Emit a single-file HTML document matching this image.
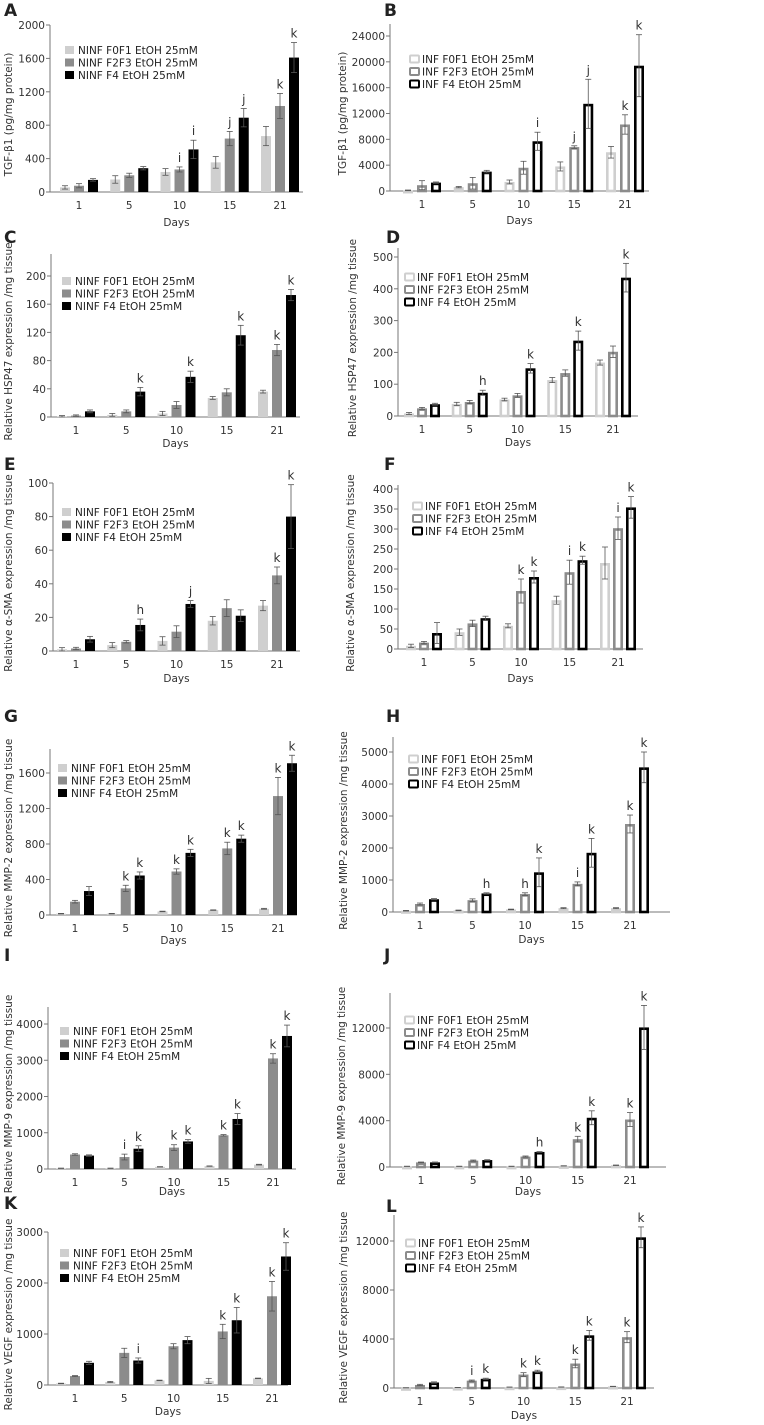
<!DOCTYPE html>
<html><head><meta charset="utf-8">
<style>
html,body{margin:0;padding:0;background:#fff;}
svg{display:block;font-family:"DejaVu Sans","Liberation Sans",sans-serif;}
</style></head>
<body>
<svg id="fig" width="764" height="1425" viewBox="0 0 764 1425" xmlns="http://www.w3.org/2000/svg"></svg>
<script>
const days = ['1','5','10','15','21'];
const seriesNINF = ['NINF F0F1 EtOH 25mM','NINF F2F3 EtOH 25mM','NINF F4 EtOH 25mM'];
const seriesINF = ['INF F0F1 EtOH 25mM','INF F2F3 EtOH 25mM','INF F4 EtOH 25mM'];

const aV0=[55,150,240,355,670], aE0=[20,45,40,70,115];
const aV1=[75,200,270,640,1030], aE1=[25,25,30,85,150];
const aV2=[145,285,510,890,1610], aE2=[15,20,110,110,180];
const aN1=['','','i','j','k'], aN2=['','','i','j','k'];
const aTicks=[0,400,800,1200,1600,2000];
const bV0=[100,600,1400,3800,6000], bE0=[50,100,300,700,900];
const bV1=[900,1200,3600,6800,10300], bE1=[700,900,1000,200,1500];
const bV2=[1300,3000,7700,13500,19400], bE2=[100,200,1400,3800,4800];
const bN1=['','','','j','k'], bN2=['','','i','j','k'];
const bTicks=[0,4000,8000,12000,16000,20000,24000];
const cV0=[1,3,5,27,36], cE0=[1,2,3,2,2];
const cV1=[2,8,17,35,95], cE1=[1,2,5,5,8];
const cV2=[8,36,57,116,173], cE2=[2,6,8,14,8];
const cN1=['','','','','k'], cN2=['','k','k','k','k'];
const cTicks=[0,40,80,120,160,200];
const dV0=[8,38,52,113,168], dE0=[3,5,4,8,8];
const dV1=[24,44,65,135,202], dE1=[3,5,6,10,18];
const dV2=[37,73,150,237,435], dE2=[3,8,15,30,45];
const dN1=['','','','',''], dN2=['','h','k','k','k'];
const dTicks=[0,100,200,300,400,500];
const eV0=[1,3.5,6,18,27], eE0=[1,1.5,2.5,2.5,3];
const eV1=[1.5,5.5,11.5,25.5,45], eE1=[0.7,0.7,3.5,5,5];
const eV2=[7,15.5,28,21,80], eE2=[1.7,3.5,2,3.5,19];
const eN1=['','','','','k'], eN2=['','h','j','','k'];
const eTicks=[0,20,40,60,80,100];
const fV0=[8,42,58,122,215], fE0=[4,8,5,10,40];
const fV1=[16,64,145,192,302], fE1=[3,8,30,30,28];
const fV2=[40,77,180,222,354], fE2=[26,5,15,10,27];
const fN1=['','','k','i','i'], fN2=['','','k','k','k'];
const fTicks=[0,50,100,150,200,250,300,350,400];
const gV0=[15,15,40,55,70], gE0=[3,3,3,3,5];
const gV1=[150,300,490,750,1340], gE1=[15,35,30,70,210];
const gV2=[270,445,700,860,1710], gE2=[50,40,40,40,90];
const gN1=['','k','k','k','k'], gN2=['','k','k','k','k'];
const gTicks=[0,400,800,1200,1600];
const hV0=[40,50,80,120,120], hE0=[10,10,10,15,15];
const hV1=[250,370,560,880,2750], hE1=[30,40,40,60,280];
const hV2=[400,580,1240,1850,4520], hE2=[20,20,450,450,480];
const hN1=['','','h','i','k'], hN2=['','h','k','k','k'];
const hTicks=[0,1000,2000,3000,4000,5000];
const iV0=[20,20,60,80,120], iE0=[5,5,5,5,10];
const iV1=[400,330,590,930,3050], iE1=[20,80,80,20,130];
const iV2=[370,560,760,1380,3670], iE2=[20,80,50,150,300];
const iN1=['','i','k','k','k'], iN2=['','k','k','k','k'];
const iTicks=[0,1000,2000,3000,4000];
const jV0=[60,60,60,100,150], jE0=[10,10,10,10,20];
const jV1=[400,550,900,2400,4100], jE1=[30,50,50,250,600];
const jV2=[400,600,1300,4250,12050], jE2=[30,30,30,600,1900];
const jN1=['','','','k','k'], jN2=['','','h','k','k'];
const jTicks=[0,4000,8000,12000];
const kV0=[30,60,90,80,130], kE0=[5,10,5,50,5];
const kV1=[175,630,760,1050,1740], kE1=[10,90,50,140,290];
const kV2=[435,480,880,1270,2520], kE2=[30,50,70,250,270];
const kN1=['','','','k','k'], kN2=['','i','','k','k'];
const kTicks=[0,1000,2000,3000];
const lV0=[20,40,70,80,130], lE0=[5,5,5,10,10];
const lV1=[250,600,1100,2000,4150], lE1=[50,50,150,350,450];
const lV2=[450,750,1350,4300,12300], lE2=[50,50,100,400,850];
const lN1=['','i','k','k','k'], lN2=['','k','k','k','k'];
const lTicks=[0,4000,8000,12000];

const NS='http://www.w3.org/2000/svg';
const svg=document.getElementById('fig');
function mk(tag,attrs,parent){const e=document.createElementNS(NS,tag);for(const k in attrs)e.setAttribute(k,attrs[k]);(parent||svg).appendChild(e);return e;}

function panel(cfg){
  const g=mk('g',{});
  
  
  const maxT=cfg.ticks[cfg.ticks.length-1];
  const y=v=>cfg.y0-(v/maxT)*(cfg.y0-cfg.yMax);
  const step=(cfg.cLast-cfg.cFirst)/(days.length-1);
  const xc=i=>cfg.cFirst+i*step;
  const lt=mk('text',{x:cfg.lx,y:cfg.ly,'font-size':17,'font-weight':'bold',fill:'#222'},g);
  lt.textContent=cfg.letter;
  
  
  const ya=mk('line',{x1:cfg.ax0,x2:cfg.ax0,y1:cfg.axTop,y2:cfg.y0,stroke:'#777','stroke-width':1},g);
  
  
  const xa=mk('line',{x1:cfg.ax0,x2:cfg.ax1,y1:cfg.y0,y2:cfg.y0,stroke:'#777','stroke-width':1},g);
  
  
  cfg.ticks.forEach(t=>{
    mk('line',{x1:cfg.ax0-4,x2:cfg.ax0,y1:y(t),y2:y(t),stroke:'#777'},g);
    const tx=mk('text',{x:cfg.ax0-5,y:y(t)+4,'font-size':10.5,'text-anchor':'end',fill:'#333'},g);
    tx.textContent=String(t);
    
    
  });
  days.forEach((d,i)=>{
    const tx=mk('text',{x:xc(i),y:cfg.y0+17,'font-size':10.5,'text-anchor':'middle',fill:'#333'},g);
    tx.textContent=d;
    
    
  });
  const xt=mk('text',{x:(cfg.ax0+cfg.ax1)/2,y:cfg.daysY,'font-size':10.5,'text-anchor':'middle',fill:'#333'},g);
  xt.textContent='Days';
  
  
  const ym=(cfg.axTop+cfg.y0)/2+6;
  const yt=mk('text',{x:cfg.tx,y:ym,'font-size':10.5,'text-anchor':'middle',fill:'#333',transform:'rotate(-90 '+cfg.tx+' '+ym+')'},g);
  yt.textContent=cfg.ytitle;
  
  
  const fills=cfg.inf?['#fff','#fff','#fff']:['#cfcfcf','#8c8c8c','#000'];
  const strokes=cfg.inf?['#cfcfcf','#8c8c8c','#000']:['none','none','none'];
  const sw=cfg.inf?2.6:0;
  const bw=10, off=cfg.off;
  const sets=[[cfg.v0,cfg.e0,null],[cfg.v1,cfg.e1,cfg.n1],[cfg.v2,cfg.e2,cfg.n2]];
  sets.forEach((s,k)=>{
    s[0].forEach((v,i)=>{
      const cx=xc(i)+(k-1)*off;
      const top=y(v);
      const r=mk('rect',{x:cx-bw/2+sw/2,y:top+sw/2,width:bw-sw,height:Math.max(0.5,cfg.y0-top-sw/2),fill:fills[k],stroke:strokes[k],'stroke-width':sw},g);
      
      
      const et=y(v+s[1][i]), eb=y(Math.max(0,v-s[1][i]));
      mk('line',{x1:cx,x2:cx,y1:et,y2:eb,stroke:'#555','stroke-width':0.8},g);
      mk('line',{x1:cx-3,x2:cx+3,y1:et,y2:et,stroke:'#555','stroke-width':0.8},g);
      mk('line',{x1:cx-3,x2:cx+3,y1:eb,y2:eb,stroke:'#555','stroke-width':0.8},g);
      if(s[2]&&s[2][i]){
        const a=mk('text',{x:cx,y:et-5,'font-size':12,'text-anchor':'middle',fill:'#333'},g);
        a.textContent=s[2][i];
        
        
      }
    });
  });
  const names=cfg.inf?seriesINF:seriesNINF;
  names.forEach((n,k)=>{
    const cy=cfg.legY+k*12.5;
    const sq=cfg.inf?mk('rect',{x:cfg.legX+1,y:cy-3.5,width:9,height:7,fill:'#fff',stroke:strokes[k],'stroke-width':2,rx:1},g)
                    :mk('rect',{x:cfg.legX,y:cy-4,width:9,height:8,fill:fills[k]},g);
    
    
    const t=mk('text',{x:cfg.legX+13,y:cy+4,'font-size':10.5,fill:'#222'},g);
    t.textContent=n;
    
    
  });
}

const L={lx:4, tx:12, off:14};
const R={off:14, inf:true};
panel({...L,letter:'A',ly:16,ytitle:'TGF-β1 (pg/mg protein)',ticks:aTicks,y0:192,yMax:25,axTop:25,ax0:50,ax1:303,cFirst:79,cLast:280,daysY:226,legX:65,legY:50,
  v0:aV0,e0:aE0,v1:aV1,e1:aE1,v2:aV2,e2:aE2,n1:aN1,n2:aN2});
panel({...R,letter:'B',lx:384,ly:16,tx:346,ytitle:'TGF-β1 (pg/mg protein)',ticks:bTicks,y0:191,yMax:36,axTop:24,ax0:390,ax1:649,cFirst:422,cLast:625,daysY:224,legX:409,legY:59,
  v0:bV0,e0:bE0,v1:bV1,e1:bE1,v2:bV2,e2:bE2,n1:bN1,n2:bN2});
panel({...L,letter:'C',ly:243,ytitle:'Relative HSP47 expression /mg tissue',ticks:cTicks,y0:417,yMax:276,axTop:254,ax0:51,ax1:300,cFirst:76,cLast:277,daysY:447,legX:62,legY:281,
  v0:cV0,e0:cE0,v1:cV1,e1:cE1,v2:cV2,e2:cE2,n1:cN1,n2:cN2});
panel({...R,off:13,letter:'D',lx:386,ly:243,tx:356,ytitle:'Relative HSP47 expression /mg tissue',ticks:dTicks,y0:416,yMax:257,axTop:248,ax0:398,ax1:638,cFirst:422,cLast:613,daysY:446,legX:404,legY:277,
  v0:dV0,e0:dE0,v1:dV1,e1:dE1,v2:dV2,e2:dE2,n1:dN1,n2:dN2});
panel({...L,letter:'E',ly:470,ytitle:'Relative α-SMA expression /mg tissue',ticks:eTicks,y0:651,yMax:483,axTop:483,ax0:53,ax1:300,cFirst:76,cLast:277,daysY:682,legX:62,legY:512,
  v0:eV0,e0:eE0,v1:eV1,e1:eE1,v2:eV2,e2:eE2,n1:eN1,n2:eN2});
panel({...R,off:13,letter:'F',lx:384,ly:470,tx:354,ytitle:'Relative α-SMA expression /mg tissue',ticks:fTicks,y0:649,yMax:489,axTop:485,ax0:398,ax1:643,cFirst:424,cLast:618,daysY:682,legX:412,legY:506,
  v0:fV0,e0:fE0,v1:fV1,e1:fE1,v2:fV2,e2:fE2,n1:fN1,n2:fN2});
panel({...L,letter:'G',ly:722,ytitle:'Relative MMP-2 expression /mg tissue',ticks:gTicks,y0:915,yMax:773,axTop:749,ax0:50,ax1:297,cFirst:75,cLast:278,daysY:944,legX:58,legY:768,
  v0:gV0,e0:gE0,v1:gV1,e1:gE1,v2:gV2,e2:gE2,n1:gN1,n2:gN2});
panel({...R,letter:'H',lx:386,ly:722,tx:347,ytitle:'Relative MMP-2 expression /mg tissue',ticks:hTicks,y0:912,yMax:752,axTop:737,ax0:393,ax1:670,cFirst:420,cLast:630,daysY:943,legX:408,legY:759,
  v0:hV0,e0:hE0,v1:hV1,e1:hE1,v2:hV2,e2:hE2,n1:hN1,n2:hN2});
panel({...L,letter:'I',ly:961,ytitle:'Relative MMP-9 expression /mg tissue',ticks:iTicks,y0:1169,yMax:1024,axTop:1007,ax0:48,ax1:296,cFirst:75,cLast:273,daysY:1195,legX:60,legY:1031,
  v0:iV0,e0:iE0,v1:iV1,e1:iE1,v2:iV2,e2:iE2,n1:iN1,n2:iN2});
panel({...R,letter:'J',lx:384,ly:961,tx:345,ytitle:'Relative MMP-9 expression /mg tissue',ticks:jTicks,y0:1167,yMax:1028,axTop:993,ax0:390,ax1:666,cFirst:421,cLast:630,daysY:1195,legX:404,legY:1020,
  v0:jV0,e0:jE0,v1:jV1,e1:jE1,v2:jV2,e2:jE2,n1:jN1,n2:jN2});
panel({...L,letter:'K',ly:1209,ytitle:'Relative VEGF expression /mg tissue',ticks:kTicks,y0:1385,yMax:1232,axTop:1232,ax0:48,ax1:288,cFirst:75,cLast:272,daysY:1415,legX:60,legY:1253,
  v0:kV0,e0:kE0,v1:kV1,e1:kE1,v2:kV2,e2:kE2,n1:kN1,n2:kN2});
panel({...R,letter:'L',lx:386,ly:1212,tx:347,ytitle:'Relative VEGF expression /mg tissue',ticks:lTicks,y0:1388,yMax:1241,axTop:1215,ax0:394,ax1:654,cFirst:420,cLast:627,daysY:1419,legX:405,legY:1243,
  v0:lV0,e0:lE0,v1:lV1,e1:lE1,v2:lV2,e2:lE2,n1:lN1,n2:lN2});
</script>
</body></html>
